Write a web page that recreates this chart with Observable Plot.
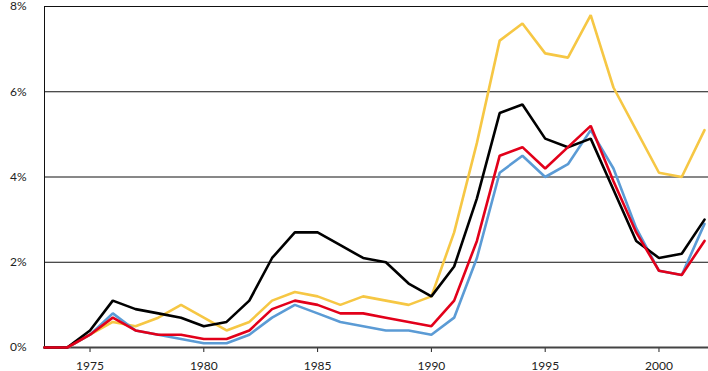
<!DOCTYPE html>
<html><head><meta charset="utf-8">
<script src="https://cdn.jsdelivr.net/npm/d3@7"></script>
<script src="https://cdn.jsdelivr.net/npm/@observablehq/plot@0.6"></script>
<style>html,body{margin:0;padding:0;background:#fff}svg{display:block}</style>
</head><body><div id="chart"></div>
<script>
const years = [1973,1974,1975,1976,1977,1978,1979,1980,1981,1982,1983,1984,1985,1986,1987,1988,1989,1990,1991,1992,1993,1994,1995,1996,1997,1998,1999,2000,2001,2002];
const yellowValues = [0,0,0.3,0.6,0.5,0.7,1.0,0.7,0.4,0.6,1.1,1.3,1.2,1.0,1.2,1.1,1.0,1.2,2.7,4.8,7.2,7.6,6.9,6.8,7.8,6.1,5.1,4.1,4.0,5.1];
const blueValues   = [0,0,0.3,0.8,0.4,0.3,0.2,0.1,0.1,0.3,0.7,1.0,0.8,0.6,0.5,0.4,0.4,0.3,0.7,2.1,4.1,4.5,4.0,4.3,5.1,4.2,2.8,1.8,1.7,2.9];
const blackValues  = [0,0,0.4,1.1,0.9,0.8,0.7,0.5,0.6,1.1,2.1,2.7,2.7,2.4,2.1,2.0,1.5,1.2,1.9,3.5,5.5,5.7,4.9,4.7,4.9,3.7,2.5,2.1,2.2,3.0];
const redValues    = [0,0,0.3,0.7,0.4,0.3,0.3,0.2,0.2,0.4,0.9,1.1,1.0,0.8,0.8,0.7,0.6,0.5,1.1,2.5,4.5,4.7,4.2,4.7,5.2,3.9,2.7,1.8,1.7,2.5];
const xTicks = [1975,1980,1985,1990,1995,2000];
const yTicks = [0,2,4,6,8];
const gridTicks = [2,4,6,8];

const series = [
  {name:"yellow", color:"#F6C744", values:yellowValues},
  {name:"blue",   color:"#5B9BD5", values:blueValues},
  {name:"black",  color:"#000000", values:blackValues},
  {name:"red",    color:"#E2001A", values:redValues}
];
const rows = s => years.map((year,i)=>({year, value:s.values[i]}));

const chart = Plot.plot({
  width:708, height:371,
  marginLeft:44, marginRight:0, marginTop:6, marginBottom:24,
  insetRight:4,
  style:{fontFamily:"Lato, 'Noto Sans', sans-serif", fontSize:"12px", color:"#222", background:"#fff", overflow:"visible"},
  x:{domain:[1973,2002], ticks:xTicks, tickFormat:d=>String(d), tickSize:5, tickPadding:9, label:null},
  y:{domain:[0,8], ticks:yTicks, tickFormat:d=>d+"%", tickSize:0, tickPadding:18, label:null},
  marks:[
    Plot.ruleY(gridTicks, {stroke:"#111", strokeWidth:1}),
    Plot.ruleX([1973], {stroke:"#111", strokeWidth:1}),
    Plot.ruleY([0], {stroke:"#444", strokeWidth:2}),
    ...series.map(s => Plot.line(rows(s), {x:"year", y:"value", stroke:s.color, strokeWidth:2.6, strokeLinejoin:"miter"}))
  ]
});
document.getElementById("chart").appendChild(chart);
</script>
</body></html>
